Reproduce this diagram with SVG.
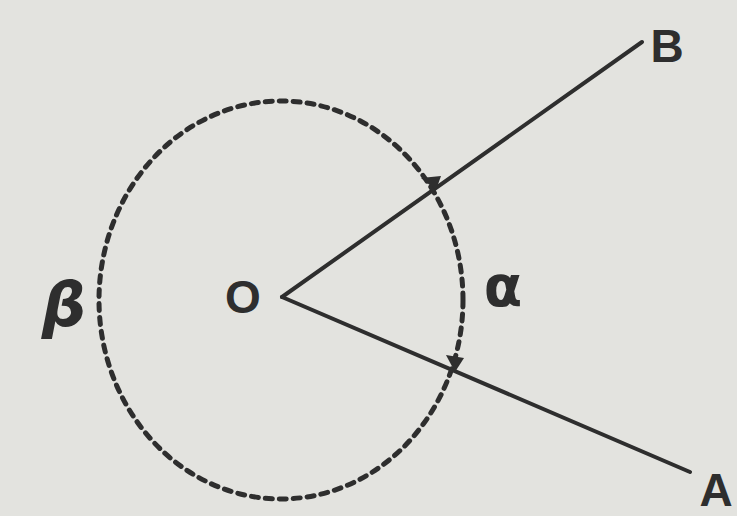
<svg xmlns="http://www.w3.org/2000/svg" width="737" height="516" viewBox="0 0 737 516">
<style>
.ray{stroke:#2e2e2e;stroke-width:4;fill:none;stroke-linecap:round}
.arc{stroke:#2e2e2e;stroke-width:5;fill:none;stroke-dasharray:7 7;stroke-linecap:round}
.lbl{font-family:"Liberation Sans",Arial,sans-serif;font-weight:bold;fill:#2e2e2e}
.greek{font-family:"DejaVu Sans","Liberation Sans",sans-serif;fill:#2e2e2e}
.ah{fill:#2e2e2e}
</style>
<rect width="737" height="516" fill="#e3e3df"/>
<g id="connectors">
<line class="ray" x1="282" y1="297" x2="642" y2="42"/>
<line class="ray" x1="282" y1="297" x2="690" y2="472"/>
<ellipse class="arc" cx="281" cy="300" rx="182" ry="199"/>
<path class="ah" d="M436,190 L421,178 L441,176 Z"/>
<path class="ah" d="M455,372 L446,355 L464,358 Z"/>
</g>
<g id="O"><text class="lbl" x="243" y="313" font-size="46" text-anchor="middle">O</text></g>
<g id="B"><text class="lbl" x="667" y="62" font-size="46" text-anchor="middle">B</text></g>
<g id="A"><text class="lbl" x="716" y="506" font-size="46" text-anchor="middle">A</text></g>
<g id="alpha"><text class="greek" x="503" y="306" font-size="56" font-weight="bold" text-anchor="middle">α</text></g>
<g id="beta"><text class="greek" x="64" y="326" font-size="62" font-weight="bold" font-style="italic" text-anchor="middle">β</text></g>
</svg>
